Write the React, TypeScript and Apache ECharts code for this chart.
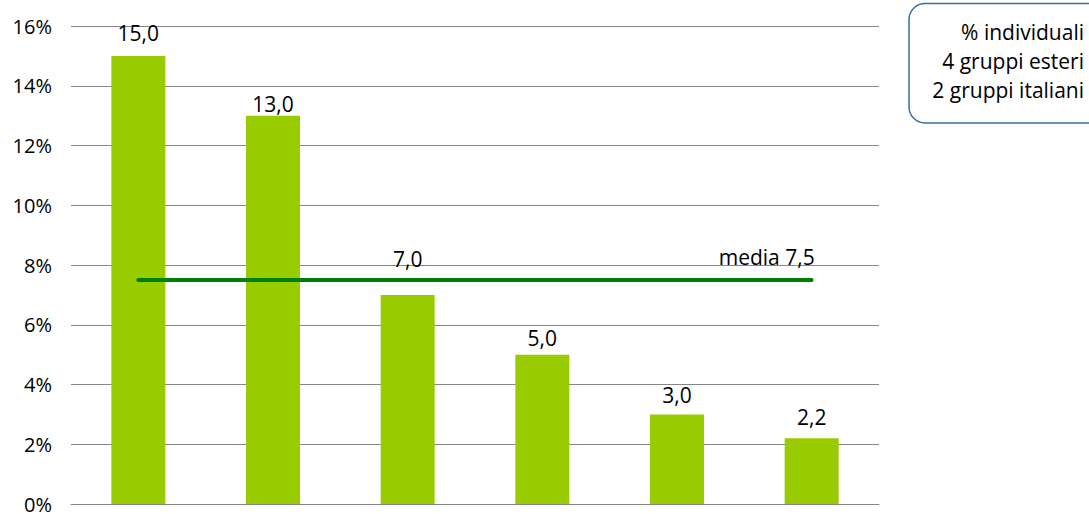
import React, { useEffect, useRef } from "react";
import * as echarts from "echarts";

const categories = ["A", "B", "C", "D", "E", "F"];
const values = [15.0, 13.0, 7.0, 5.0, 3.0, 2.2];
const meanValue = 7.5;
const meanLabel = "media";
const yTicks = { min: 0, max: 16, interval: 2 };
const noteLines = ["% individuali", "4 gruppi esteri", "2 gruppi italiani"];

// styling (label distances above each bar, in px)
const labelDistances = [12, 1, 25, 6, 9, 11];
const FONT = "'Open Sans', 'Noto Sans', sans-serif";
const FS = 21;

const fmt = (v: number) => v.toFixed(1).replace(".", ",");

export default function App() {
  const ref = useRef<HTMLDivElement>(null);
  useEffect(() => {
    document.body.style.margin = "0";
    if (!ref.current) return;
    const chart = echarts.init(ref.current, null, { renderer: "svg" });
    const noteY = [32, 61, 90];
    chart.setOption({
      animation: false,
      textStyle: { fontFamily: FONT },
      grid: { left: 71, right: 210, top: 26, bottom: 6.5 },
      xAxis: {
        type: "category",
        data: categories,
        axisLabel: { show: false },
        axisTick: { show: false },
        axisLine: { show: true, lineStyle: { color: "#868686", width: 1 } },
      },
      yAxis: {
        type: "value",
        min: yTicks.min,
        max: yTicks.max,
        interval: yTicks.interval,
        axisLabel: {
          formatter: "{value}%",
          color: "#000",
          fontSize: 20,
          fontFamily: FONT,
          margin: 19,
        },
        axisLine: { show: false },
        axisTick: { show: false },
        splitLine: { lineStyle: { color: "#868686", width: 1 } },
      },
      series: [
        {
          type: "bar",
          barWidth: 54,
          itemStyle: { color: "#99CC00" },
          data: values.map((v, i) => ({
            value: v,
            label: { distance: labelDistances[i] },
          })),
          label: {
            show: true,
            position: "top",
            color: "#000",
            fontSize: FS,
            fontFamily: FONT,
            formatter: (p: any) => fmt(p.value),
          },
          z: 2,
        },
        {
          type: "line",
          symbol: "circle",
          symbolSize: 0,
          showSymbol: true,
          itemStyle: { color: "#008000" },
          data: categories.map((_, i) =>
            i === categories.length - 1
              ? {
                  value: meanValue,
                  label: {
                    show: true,
                    position: "top",
                    align: "right",
                    distance: 12,
                    offset: [3, 0],
                    color: "#000",
                    fontSize: FS,
                    fontFamily: FONT,
                    formatter: () => `${meanLabel} ${fmt(meanValue)}`,
                  },
                }
              : { value: meanValue }
          ),
          lineStyle: { color: "#008000", width: 4, cap: "round" },
          z: 3,
        },
      ],
      graphic: [
        {
          type: "rect",
          shape: { x: 909, y: 3.5, width: 200, height: 119.5, r: 16 },
          style: { fill: "#fff", stroke: "#3A6F9E", lineWidth: 1.5 },
        },
        ...noteLines.map((t, i) => ({
          type: "text",
          x: 1084,
          y: noteY[i],
          style: {
            text: t,
            fill: "#000",
            fontSize: FS,
            fontFamily: FONT,
            align: "right",
            verticalAlign: "middle",
          },
        })),
      ],
    });
    return () => chart.dispose();
  }, []);
  return <div ref={ref} style={{ width: 1089, height: 514 }} />;
}
